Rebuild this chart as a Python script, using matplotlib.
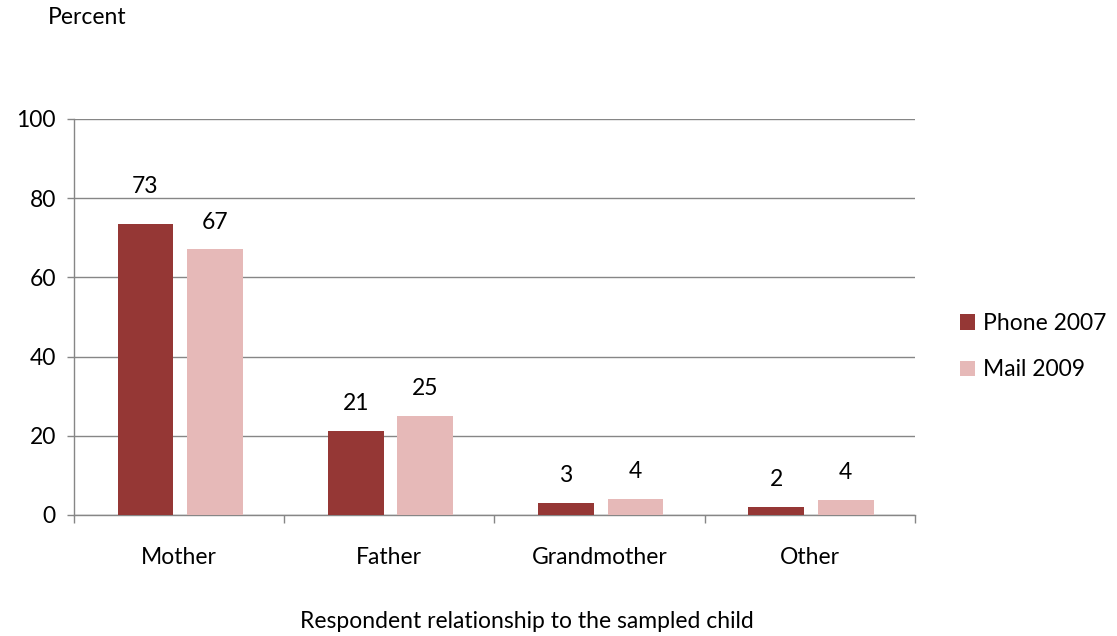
import matplotlib
matplotlib.use("Agg")
import matplotlib.pyplot as plt
import numpy as np

plt.rcParams["font.family"] = ["Lato", "DejaVu Sans"]

categories = ["Mother", "Father", "Grandmother", "Other"]
phone_2007 = [73.4, 21.3, 3.1, 2.0]
mail_2009 = [67.1, 25.1, 4.0, 3.8]
y_ticks = [0, 20, 40, 60, 80, 100]

C_PHONE = "#953735"
C_MAIL = "#e6b9b8"
C_GRID = "#868686"
FS = 16.5

fig = plt.figure(figsize=(11.17, 6.36), dpi=100)
ax = fig.add_axes([0.0662, 0.1903, 0.7530, 0.6226])

x = np.arange(len(categories))
w = 0.265
b1 = ax.bar(x - 0.16, phone_2007, w, color=C_PHONE, label="Phone 2007", zorder=3)
b2 = ax.bar(x + 0.17, mail_2009, w, color=C_MAIL, label="Mail 2009", zorder=3)

# value labels above each bar; the tall Mother bar gets a bit more room
for bars, vals in ((b1, phone_2007), (b2, mail_2009)):
    for i, (rect, v) in enumerate(zip(bars, vals)):
        lift = 20 if (bars is b1 and i == 0) else 12
        ax.annotate(f"{v:.0f}", xy=(rect.get_x() + rect.get_width() / 2, v),
                    xytext=(0, lift), textcoords="offset points",
                    ha="center", va="bottom", fontsize=FS, color="black")

ax.set_xlim(-0.5, len(categories) - 0.5)
ax.set_ylim(0, 100)
ax.set_yticks(y_ticks)
ax.tick_params(axis="y", labelsize=FS, length=5, color=C_GRID, width=1, pad=8)
ax.yaxis.grid(True, color=C_GRID, lw=1, zorder=0)

# category boundaries as ticks, labels centred under each group
ax.set_xticks(np.arange(len(categories) + 1) - 0.5)
ax.set_xticklabels([])
ax.set_xticks(x, minor=True)
ax.set_xticklabels(categories, minor=True, fontsize=FS)
ax.tick_params(axis="x", which="major", length=6, color=C_GRID, width=1)
ax.tick_params(axis="x", which="minor", length=0, pad=23)

for s in ("top", "right"):
    ax.spines[s].set_visible(False)
for s in ("left", "bottom"):
    ax.spines[s].set_color(C_GRID)
    ax.spines[s].set_linewidth(1)

ax.set_xlabel("Respondent relationship to the sampled child", fontsize=FS, va="center")
ax.xaxis.set_label_coords(0.539, -0.268)
fig.text(48 / 1117, 1 - 17 / 636, "Percent", fontsize=FS, ha="left", va="center")

ax.legend(loc="center left", bbox_to_anchor=((960 - 74) / 841, 0.425),
          frameon=False, fontsize=FS, handlelength=0.65, handleheight=0.65,
          handletextpad=0.35, labelspacing=1.1, borderaxespad=0, borderpad=0)

fig.savefig("out.png", dpi=100)
